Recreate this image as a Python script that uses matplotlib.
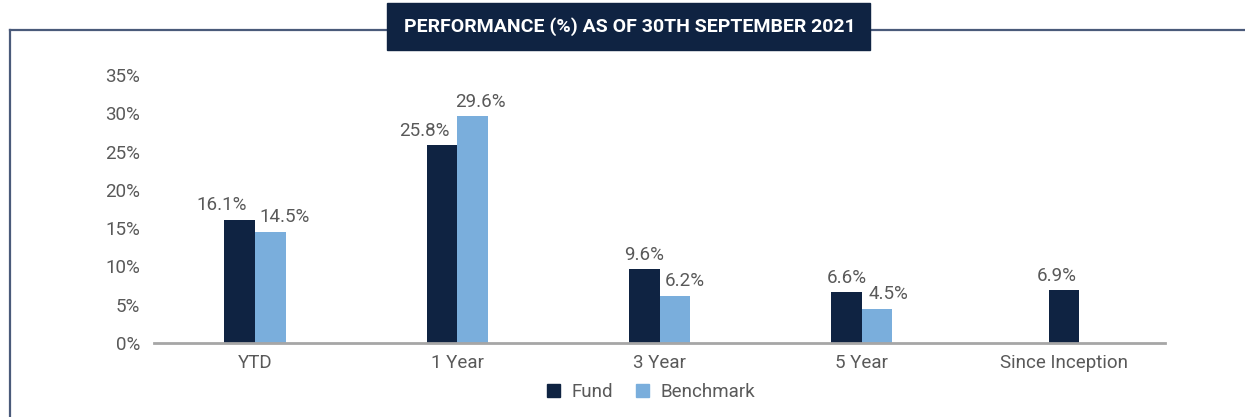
import numpy as np
import matplotlib
matplotlib.use('Agg')
import matplotlib.pyplot as plt
from matplotlib.patches import Rectangle
from matplotlib.lines import Line2D

categories = ['YTD', '1 Year', '3 Year', '5 Year', 'Since Inception']
fund = [16.1, 25.8, 9.6, 6.6, 6.9]
benchmark = [14.5, 29.6, 6.2, 4.5, np.nan]
yticks = [0, 5, 10, 15, 20, 25, 30, 35]

navy = '#0f2342'
light = '#7aaedc'
grey = '#595959'

plt.rcParams['font.family'] = ['Roboto', 'DejaVu Sans']

fig = plt.figure(figsize=(12.45, 4.17), dpi=100)
ax = fig.add_axes([154/1245, 1-343/417, (1165-154)/1245, (343-75)/417])

w = 0.152
x = np.arange(len(categories))
# label nudges in pixels (Excel pushes wide labels apart)
fund_dx = [-18, -18, 0, 0, -7]
bench_dx = [14, 8, 10, 11, 0]
fs = 13.5
for i in range(len(categories)):
    if np.isnan(benchmark[i]):
        xf = x[i]
    else:
        xf = x[i] - w/2
        ax.bar(x[i] + w/2, benchmark[i], w, color=light)
        ax.annotate('%.1f%%' % benchmark[i], (x[i] + w/2, benchmark[i]), xytext=(bench_dx[i]*0.72, 4),
                    textcoords='offset points', ha='center', va='bottom', color=grey, fontsize=fs)
    ax.bar(xf, fund[i], w, color=navy)
    ax.annotate('%.1f%%' % fund[i], (xf, fund[i]), xytext=(fund_dx[i]*0.72, 4),
                textcoords='offset points', ha='center', va='bottom', color=grey, fontsize=fs)

ax.set_xlim(-0.5, 4.5)
ax.set_ylim(0, 35)
ax.set_yticks(yticks)
ax.set_yticklabels(['%d%%' % t for t in yticks])
ax.set_xticks(x)
ax.set_xticklabels(categories)
ax.tick_params(length=0, labelsize=fs, colors=grey, pad=8)
ax.tick_params(axis='y', pad=10)
for s in ['top', 'right', 'left']:
    ax.spines[s].set_visible(False)
ax.spines['bottom'].set_color('#a6a6a6')
ax.spines['bottom'].set_linewidth(2)

handles = [Rectangle((0, 0), 1, 1, color=navy), Rectangle((0, 0), 1, 1, color=light)]
fig.legend(handles, ['Fund', 'Benchmark'], loc='center', bbox_to_anchor=(651/1245, 1-392/417),
           ncol=2, frameon=False, fontsize=fs, labelcolor=grey, handlelength=0.7, handleheight=0.7,
           columnspacing=1.2, handletextpad=0.6)

# frame and title box
fig.add_artist(Line2D([10/1245, 1], [1-30/417, 1-30/417], color='#4a5a7a', lw=1.6, zorder=1))
fig.add_artist(Line2D([10/1245, 10/1245], [1-30/417, 0], color='#4a5a7a', lw=1.6, zorder=1))
fig.add_artist(Rectangle((387/1245, 1-50/417), (870-387)/1245, 47/417, color=navy,
                         transform=fig.transFigure, zorder=3))
fig.text(630/1245, 1-27/417, 'PERFORMANCE (%) AS OF 30TH SEPTEMBER 2021', color='white',
         fontsize=14, fontweight='bold', ha='center', va='center', zorder=4)

fig.savefig('out.png', dpi=100)
